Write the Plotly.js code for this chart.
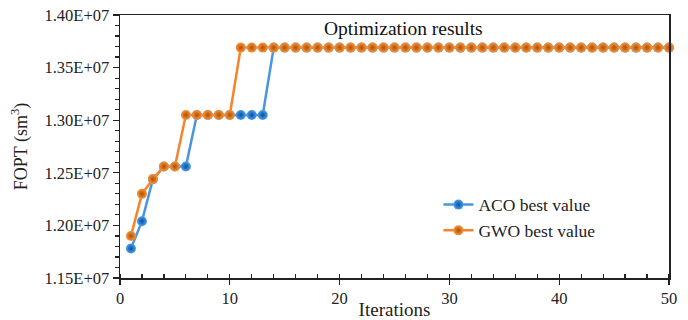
<!DOCTYPE html>
<html>
<head>
<meta charset="utf-8">
<script src="https://cdn.plot.ly/plotly-3.0.1.min.js"></script>
<style>html,body{margin:0;padding:0;background:#fff}#chart{width:688px;height:320px}</style>
</head>
<body>
<div id="chart"></div>
<script>
const iterations = [1,2,3,4,5,6,7,8,9,10,11,12,13,14,15,16,17,18,19,20,21,22,23,24,25,26,27,28,29,30,31,32,33,34,35,36,37,38,39,40,41,42,43,44,45,46,47,48,49,50];
const acoBest = [1.178e7,1.204e7,1.244e7,1.256e7,1.256e7,1.256e7,1.305e7,1.305e7,1.305e7,1.305e7,1.305e7,1.305e7,1.305e7,
  1.369e7,1.369e7,1.369e7,1.369e7,1.369e7,1.369e7,1.369e7,1.369e7,1.369e7,1.369e7,1.369e7,1.369e7,1.369e7,1.369e7,1.369e7,1.369e7,1.369e7,1.369e7,1.369e7,1.369e7,1.369e7,1.369e7,1.369e7,1.369e7,1.369e7,1.369e7,1.369e7,1.369e7,1.369e7,1.369e7,1.369e7,1.369e7,1.369e7,1.369e7,1.369e7,1.369e7,1.369e7];
const gwoBest = [1.190e7,1.230e7,1.244e7,1.256e7,1.256e7,1.305e7,1.305e7,1.305e7,1.305e7,1.305e7,
  1.369e7,1.369e7,1.369e7,1.369e7,1.369e7,1.369e7,1.369e7,1.369e7,1.369e7,1.369e7,1.369e7,1.369e7,1.369e7,1.369e7,1.369e7,1.369e7,1.369e7,1.369e7,1.369e7,1.369e7,1.369e7,1.369e7,1.369e7,1.369e7,1.369e7,1.369e7,1.369e7,1.369e7,1.369e7,1.369e7,1.369e7,1.369e7,1.369e7,1.369e7,1.369e7,1.369e7,1.369e7,1.369e7,1.369e7,1.369e7];
const yTickVals = [1.15e7,1.20e7,1.25e7,1.30e7,1.35e7,1.40e7];
const yTickText = ["1.15E+07","1.20E+07","1.25E+07","1.30E+07","1.35E+07","1.40E+07"];
const seriesNames = ["ACO best value","GWO best value"];

const serif = "Liberation Serif";

const traces = [
  {x: iterations, y: acoBest, name: seriesNames[0], type: "scatter", mode: "lines+markers", cliponaxis: false,
   line: {color: "#4a95e0", width: 2.5},
   marker: {symbol: "circle", size: 10, color: "#4aa0f0", gradient: {type: "radial", color: "#0a4f9e"}, line: {width: 0}}},
  {x: iterations, y: gwoBest, name: seriesNames[1], type: "scatter", mode: "lines+markers", cliponaxis: false,
   line: {color: "#f5842c", width: 2.5},
   marker: {symbol: "circle", size: 10, color: "#f7963c", gradient: {type: "radial", color: "#b04e06"}, line: {width: 0}}}
];

const layout = {
  width: 688, height: 320,
  margin: {l: 120, r: 19, t: 15, b: 42},
  paper_bgcolor: "#fff", plot_bgcolor: "#fff",
  font: {family: serif, color: "#222", size: 16},
  showlegend: true,
  legend: {x: 0.58, y: 0.347, xanchor: "left", yanchor: "top", bgcolor: "rgba(0,0,0,0)",
           font: {family: serif, size: 17.5, color: "#222"}, tracegroupgap: 0},
  xaxis: {range: [0, 50], tickmode: "linear", tick0: 0, dtick: 10,
          ticks: "outside", ticklen: 5, tickwidth: 1.2, tickcolor: "#222",
          minor: {tickmode: "linear", tick0: 0, dtick: 2, ticks: "inside", ticklen: 4, tickcolor: "#222", showgrid: false},
          showline: true, linecolor: "#222", linewidth: 1.5, mirror: true, showgrid: false, zeroline: false,
          tickfont: {family: serif, size: 16.5, color: "#222"},
          title: {text: "Iterations", font: {family: serif, size: 19, color: "#222"}, standoff: 0}},
  yaxis: {range: [1.15e7, 1.40e7], tickmode: "array", tickvals: yTickVals, ticktext: yTickText,
          ticks: "outside", ticklen: 6, tickwidth: 1.2, tickcolor: "#222",
          minor: {tickmode: "linear", tick0: 1.15e7, dtick: 1e5, ticks: "outside", ticklen: 4, tickcolor: "#222", showgrid: false},
          showline: true, linecolor: "#222", linewidth: 1.5, mirror: true, showgrid: false, zeroline: false,
          tickfont: {family: serif, size: 16.5, color: "#222"},
          title: {text: "FOPT (sm<sup>3</sup>)", font: {family: serif, size: 18, color: "#222"}, standoff: 12}},
  annotations: [{text: "Optimization results", xref: "paper", yref: "paper", x: 0.517, y: 0.995,
                 xanchor: "center", yanchor: "top", showarrow: false,
                 font: {family: serif, size: 19.5, color: "#111"}}]
};

Plotly.newPlot("chart", traces, layout, {staticPlot: true, displayModeBar: false});
</script>
</body>
</html>
